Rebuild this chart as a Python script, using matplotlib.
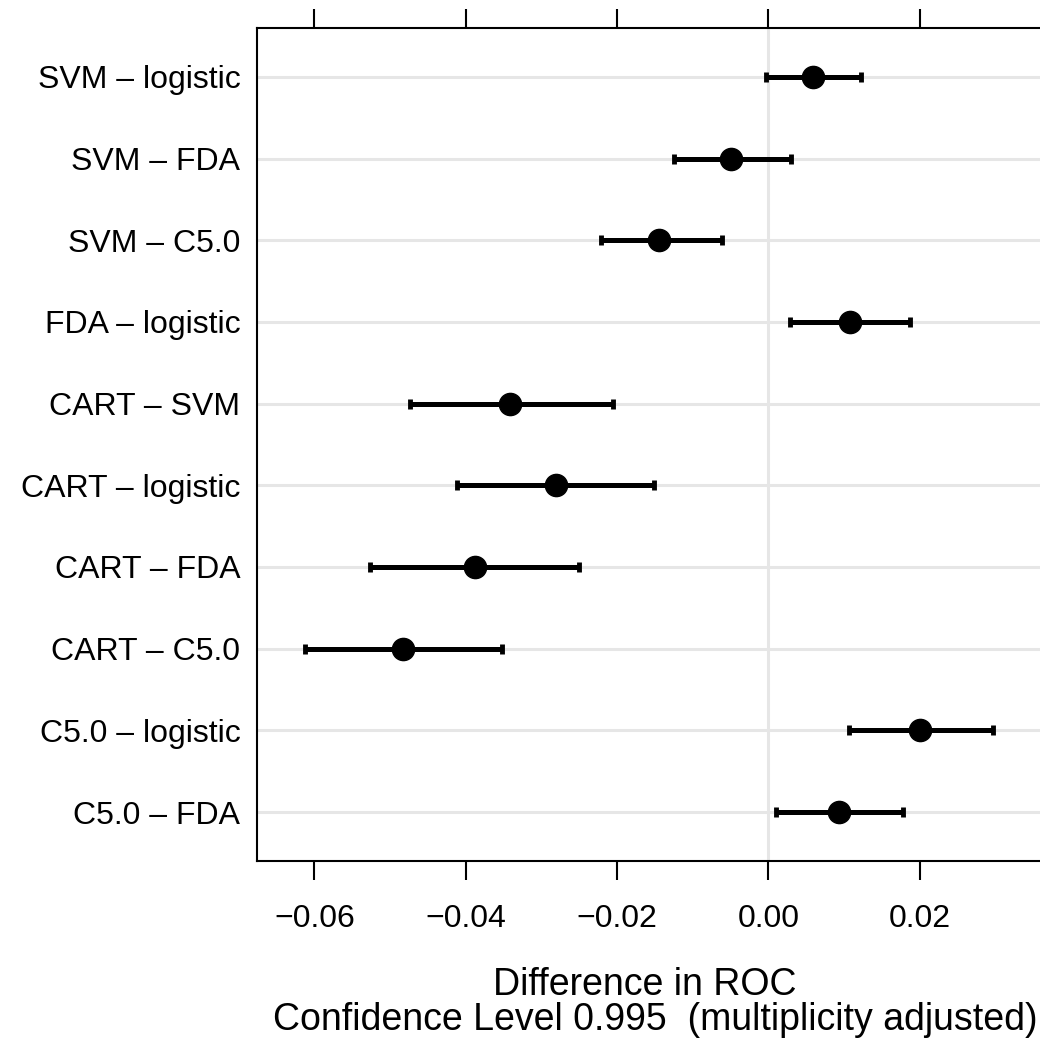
import matplotlib
matplotlib.use("Agg")
import matplotlib.pyplot as plt
import numpy as np

plt.rcParams.update({
    "font.family": ["Liberation Sans", "DejaVu Sans"],
    "font.size": 23,
})

# comparisons, top to bottom as drawn
comparisons = ["SVM \u2013 logistic", "SVM \u2013 FDA", "SVM \u2013 C5.0", "FDA \u2013 logistic",
               "CART \u2013 SVM", "CART \u2013 logistic", "CART \u2013 FDA", "CART \u2013 C5.0",
               "C5.0 \u2013 logistic", "C5.0 \u2013 FDA"]
estimate = [0.0059, -0.0050, -0.0144, 0.0108, -0.0341, -0.0281, -0.0388, -0.0483, 0.0201, 0.0093]
lower = [-0.0003, -0.0125, -0.0221, 0.0028, -0.0474, -0.0411, -0.0527, -0.0613, 0.0106, 0.0010]
upper = [0.0122, 0.0030, -0.0062, 0.0187, -0.0206, -0.0151, -0.0250, -0.0352, 0.0297, 0.0178]
xticks = [-0.06, -0.04, -0.02, 0.00, 0.02]
xticklabels = ["\u22120.06", "\u22120.04", "\u22120.02", "0.00", "0.02"]

W, H = 1040, 1042
fig = plt.figure(figsize=(W / 100, H / 100), dpi=100)
ax = fig.add_axes([257 / W, (H - 861) / H, (1040 - 257) / W, (861 - 28) / H])

n = len(comparisons)
ypos = np.arange(n, 0, -1)
est = np.array(estimate)
lo = np.array(lower)
hi = np.array(upper)

for y in ypos:
    ax.axhline(y, color="#e6e6e6", lw=2.2, zorder=0)
ax.axvline(0, color="#e6e6e6", lw=2.2, zorder=0)

ax.errorbar(est, ypos, xerr=[est - lo, hi - est], fmt="o", color="black",
            ms=16, elinewidth=3.6, capsize=3.5, capthick=3.5, zorder=3)

ax.set_xlim(-0.0676, 0.0359)
ax.set_ylim(0.4, n + 0.6)
ax.set_yticks(ypos)
ax.set_yticklabels(comparisons, fontsize=23)
ax.set_xticks(xticks)
ax.set_xticklabels(xticklabels, fontsize=23)
ax.tick_params(axis="y", length=0, pad=12)
ax.tick_params(axis="x", top=True, bottom=True, direction="out", length=14,
               width=1.5, pad=17)
for s in ["left", "top", "bottom"]:
    ax.spines[s].set_linewidth(1.5)
ax.spines["right"].set_visible(False)

fig.text(645 / W, 1 - 985 / H, "Difference in ROC", ha="center", va="center", fontsize=27)
fig.text(655 / W, 1 - 1020 / H, "Confidence Level 0.995  (multiplicity adjusted)",
         ha="center", va="center", fontsize=27)

fig.savefig("out.png", dpi=100)
